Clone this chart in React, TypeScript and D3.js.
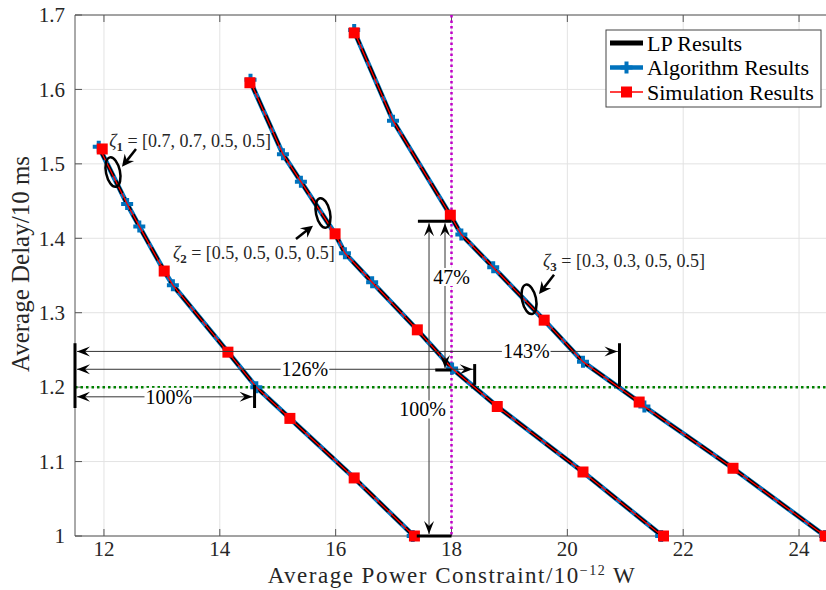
import * as React from 'react'
import { useEffect, useRef } from 'react'
import * as d3 from 'd3'

const W = 826
const H = 590
const FONT = '"Liberation Serif", "Times New Roman", serif'

const xTicks = [12, 14, 16, 18, 20, 22, 24]
const yTicks = [1, 1.1, 1.2, 1.3, 1.4, 1.5, 1.6, 1.7]

// zeta_1 = [0.7, 0.7, 0.5, 0.5]
const lp1 = [[11.91, 1.523], [12.4, 1.446], [12.61, 1.416], [13.04, 1.356], [13.19, 1.337], [14.14, 1.247], [14.63, 1.2], [15.21, 1.158], [16.32, 1.078], [17.35, 1.0]]
const alg1 = [[11.91, 1.523], [12.4, 1.446], [12.61, 1.416], [13.19, 1.337], [14.63, 1.2], [17.33, 1.0]]
const sim1 = [[11.97, 1.52], [13.04, 1.356], [14.14, 1.247], [15.21, 1.158], [16.32, 1.078], [17.36, 1.0]]

// zeta_2 = [0.5, 0.5, 0.5, 0.5]
const lp2 = [[14.52, 1.612], [15.09, 1.513], [15.4, 1.476], [15.99, 1.406], [16.16, 1.38], [16.63, 1.341], [17.41, 1.277], [18.01, 1.225], [18.79, 1.174], [20.27, 1.086], [21.64, 1.0]]
const alg2 = [[14.53, 1.613], [15.09, 1.513], [15.4, 1.476], [16.16, 1.38], [16.63, 1.341], [18.01, 1.225], [21.62, 1.0]]
const sim2 = [[14.52, 1.609], [15.99, 1.406], [17.41, 1.277], [18.79, 1.174], [20.27, 1.086], [21.66, 1.0]]

// zeta_3 = [0.3, 0.3, 0.5, 0.5]
const lp3 = [[16.32, 1.678], [16.99, 1.558], [17.98, 1.431], [18.17, 1.405], [18.72, 1.361], [19.6, 1.29], [20.27, 1.234], [21.24, 1.18], [21.33, 1.174], [22.86, 1.091], [24.45, 1.0]]
const alg3 = [[16.32, 1.68], [16.99, 1.558], [18.17, 1.405], [18.72, 1.361], [20.27, 1.234], [21.33, 1.174], [24.45, 1.0]]
const sim3 = [[16.32, 1.676], [17.98, 1.431], [19.6, 1.29], [21.24, 1.18], [22.86, 1.091], [24.45, 1.0]]

const curves = [
  { lp: lp1, alg: alg1, sim: sim1 },
  { lp: lp2, alg: alg2, sim: sim2 },
  { lp: lp3, alg: alg3, sim: sim3 },
]

// zeta labels: text anchor, ellipse center, arrow from -> to (data units)
const zetaLabels = [
  { sub: '1', vals: '[0.7, 0.7, 0.5, 0.5]', text: [12.09, 1.523], ell: [12.156, 1.489], from: [12.553, 1.52], to: [12.311, 1.496] },
  { sub: '2', vals: '[0.5, 0.5, 0.5, 0.5]', text: [13.19, 1.372], ell: [15.782, 1.434], from: [15.315, 1.399], to: [15.609, 1.417] },
  { sub: '3', vals: '[0.3, 0.3, 0.5, 0.5]', text: [19.58, 1.361], ell: [19.338, 1.318], from: [19.77, 1.351], to: [19.511, 1.325] },
]

const powerRef = 18
const delayRef = 1.2

// horizontal percentage arrows
const hArrows = [
  { label: '100%', y: 1.187, x2: 14.6, labelX: 13.12, barTop: 1.203, barBot: 1.172 },
  { label: '126%', y: 1.224, x2: 18.4, labelX: 15.47, barTop: 1.231, barBot: 1.203 },
  { label: '143%', y: 1.248, x2: 20.9, labelX: 19.29, barTop: 1.259, barBot: 1.201 },
]

// vertical percentage arrows
const vArrows = [
  { label: '100%', x: 17.612, y1: 1.0, y2: 1.423, labelX: 17.5, labelY: 1.17 },
  { label: '47%', x: 17.888, y1: 1.223, y2: 1.423, labelX: 18.0, labelY: 1.348 },
]
const vBars = [
  { x1: 17.42, x2: 18.0, y: 1.423 },
  { x1: 17.72, x2: 18.0, y: 1.223 },
  { x1: 17.4, x2: 18.0, y: 1.0 },
]

const BLUE = '#0072BD'
const RED = '#ff0000'

function arrowHead(tx: number, ty: number, ang: number, len: number, half: number, notch: number) {
  const dx = Math.cos(ang)
  const dy = Math.sin(ang)
  const px = -dy
  const py = dx
  return `M${tx},${ty}L${tx - len * dx + half * px},${ty - len * dy + half * py}L${tx - notch * dx},${ty - notch * dy}L${tx - len * dx - half * px},${ty - len * dy - half * py}Z`
}

function App() {
  const ref = useRef<SVGSVGElement>(null)

  useEffect(() => {
    const svg = d3.select(ref.current)
    svg.selectAll('*').remove()

    const x = d3.scaleLinear().domain([11.5, 24.5]).range([75, 828])
    const y = d3.scaleLinear().domain([1, 1.7]).range([536, 15])
    const [x0, x1] = x.range()
    const [y0, y1] = y.range()

    // grid
    const grid = svg.append('g')
    grid.selectAll('line.gx').data(xTicks).enter().append('line')
      .attr('x1', (d) => x(d)).attr('x2', (d) => x(d)).attr('y1', y1).attr('y2', y0)
      .attr('stroke', '#e3e3e3').attr('stroke-width', 1)
    grid.selectAll('line.gy').data(yTicks).enter().append('line')
      .attr('x1', x0).attr('x2', x1).attr('y1', (d) => y(d)).attr('y2', (d) => y(d))
      .attr('stroke', '#e3e3e3').attr('stroke-width', 1)

    // axes box + ticks
    const ax = svg.append('g').attr('stroke', '#555').attr('stroke-width', 1)
    ax.append('line').attr('x1', x0).attr('x2', x1).attr('y1', y0).attr('y2', y0)
    ax.append('line').attr('x1', x0).attr('x2', x1).attr('y1', y1).attr('y2', y1)
    ax.append('line').attr('x1', x0).attr('x2', x0).attr('y1', y0).attr('y2', y1)
    xTicks.forEach((t) => {
      ax.append('line').attr('x1', x(t)).attr('x2', x(t)).attr('y1', y0).attr('y2', y0 - 7)
      ax.append('line').attr('x1', x(t)).attr('x2', x(t)).attr('y1', y1).attr('y2', y1 + 7)
    })
    yTicks.forEach((t) => {
      ax.append('line').attr('x1', x0).attr('x2', x0 + 7).attr('y1', y(t)).attr('y2', y(t))
    })

    svg.append('g').selectAll('text').data(xTicks).enter().append('text')
      .attr('x', (d) => x(d)).attr('y', y0 + 20).attr('text-anchor', 'middle')
      .attr('font-family', FONT).attr('font-size', 21).attr('fill', '#262626')
      .text((d) => d)
    svg.append('g').selectAll('text').data(yTicks).enter().append('text')
      .attr('x', x0 - 10).attr('y', (d) => y(d)).attr('dy', '0.35em').attr('text-anchor', 'end')
      .attr('font-family', FONT).attr('font-size', 21).attr('fill', '#262626')
      .text((d) => (d === 1 ? '1' : d.toFixed(1)))

    // axis titles
    const xl = svg.append('text').attr('x', 452).attr('y', 583).attr('text-anchor', 'middle')
      .attr('font-family', FONT).attr('font-size', 23).attr('letter-spacing', 1.5).attr('fill', '#262626')
    xl.append('tspan').text('Average Power Constraint/10')
    xl.append('tspan').attr('font-size', 14).attr('dy', -8).text('\u221212')
    xl.append('tspan').attr('dy', 8).text(' W')
    svg.append('text').attr('transform', `translate(29,264) rotate(-90)`).attr('text-anchor', 'middle')
      .attr('font-family', FONT).attr('font-size', 25).attr('fill', '#262626')
      .text('Average Delay/10 ms')

    // reference lines
    svg.append('line').attr('x1', x0).attr('x2', x1).attr('y1', y(delayRef)).attr('y2', y(delayRef))
      .attr('stroke', '#008000').attr('stroke-width', 2.5).attr('stroke-dasharray', '2.5 3')
    svg.append('line').attr('x1', x(powerRef)).attr('x2', x(powerRef)).attr('y1', y1).attr('y2', y0)
      .attr('stroke', '#c000c8').attr('stroke-width', 2.5).attr('stroke-dasharray', '2.5 3')

    // curves
    const line = d3.line<number[]>().x((d) => x(d[0])).y((d) => y(d[1]))
    const cg = svg.append('g')
    curves.forEach((c) => {
      cg.append('path').attr('d', line(c.lp)).attr('fill', 'none').attr('stroke', BLUE).attr('stroke-width', 5)
      cg.append('path').attr('d', line(c.lp)).attr('fill', 'none').attr('stroke', '#000').attr('stroke-width', 3.6)
        .attr('stroke-dasharray', '14 5')
    })
    curves.forEach((c) => {
      cg.selectAll(null).data(c.alg).enter().append('path')
        .attr('d', (d) => `M${x(d[0]) - 6},${y(d[1])}h12M${x(d[0])},${y(d[1]) - 6}v12`)
        .attr('stroke', BLUE).attr('stroke-width', 4)
    })
    curves.forEach((c) => {
      cg.append('path').attr('d', line(c.lp)).attr('fill', 'none').attr('stroke', RED).attr('stroke-width', 1.3)
      cg.selectAll(null).data(c.sim).enter().append('rect')
        .attr('x', (d) => x(d[0]) - 5.5).attr('y', (d) => y(d[1]) - 5.5)
        .attr('width', 11).attr('height', 11).attr('fill', RED)
    })

    // zeta annotations
    const an = svg.append('g')
    zetaLabels.forEach((z) => {
      const cx = x(z.ell[0])
      const cy = y(z.ell[1])
      an.append('ellipse').attr('cx', cx).attr('cy', cy).attr('rx', 7).attr('ry', 15)
        .attr('transform', `rotate(-12,${cx},${cy})`)
        .attr('fill', 'none').attr('stroke', '#000').attr('stroke-width', 2.5)
      const fx = x(z.from[0]), fy = y(z.from[1]), tx = x(z.to[0]), ty = y(z.to[1])
      const ang = Math.atan2(ty - fy, tx - fx)
      an.append('line').attr('x1', fx).attr('y1', fy).attr('x2', tx - 6 * Math.cos(ang)).attr('y2', ty - 6 * Math.sin(ang))
        .attr('stroke', '#000').attr('stroke-width', 2.5)
      an.append('path').attr('d', arrowHead(tx, ty, ang, 12, 6, 8)).attr('fill', '#000')
      const t = an.append('text').attr('x', x(z.text[0])).attr('y', y(z.text[1]))
        .attr('font-family', FONT).attr('font-size', 18).attr('fill', '#262626')
      t.append('tspan').attr('font-style', 'italic').text('\u03b6')
      t.append('tspan').attr('font-size', 13).attr('font-weight', 'bold').attr('dy', 4).text(z.sub)
      t.append('tspan').attr('dy', -4).text(` = ${z.vals}`)
    })

    const label = (g: any, lx: number, ly: number, txt: string) => {
      const t = g.append('text').attr('x', lx).attr('y', ly).attr('dy', '0.35em').attr('text-anchor', 'middle')
        .attr('font-family', FONT).attr('font-size', 20).attr('fill', '#000').text(txt)
      const b = t.node().getBBox()
      g.insert('rect', () => t.node()).attr('x', b.x - 1).attr('y', b.y + 2).attr('width', b.width + 2).attr('height', b.height - 4)
        .attr('fill', '#fff')
    }

    // horizontal arrows
    const ha = svg.append('g')
    ha.append('line').attr('x1', x0).attr('x2', x0).attr('y1', y(1.259)).attr('y2', y(1.172))
      .attr('stroke', '#000').attr('stroke-width', 3)
    hArrows.forEach((a) => {
      const ya = y(a.y)
      const xs = x(11.5) + 2
      const xe = x(a.x2)
      ha.append('line').attr('x1', xs).attr('x2', xe).attr('y1', ya).attr('y2', ya).attr('stroke', '#333').attr('stroke-width', 1)
      ha.append('path').attr('d', arrowHead(xs, ya, Math.PI, 13, 5, 8)).attr('fill', '#000')
      ha.append('path').attr('d', arrowHead(xe - 2, ya, 0, 13, 5, 8)).attr('fill', '#000')
      ha.append('line').attr('x1', xe).attr('x2', xe).attr('y1', y(a.barTop)).attr('y2', y(a.barBot))
        .attr('stroke', '#000').attr('stroke-width', 3)
      label(ha, x(a.labelX), ya, a.label)
    })

    // vertical arrows
    const va = svg.append('g')
    vBars.forEach((b) => {
      va.append('line').attr('x1', x(b.x1)).attr('x2', x(b.x2)).attr('y1', y(b.y)).attr('y2', y(b.y))
        .attr('stroke', '#000').attr('stroke-width', 3)
    })
    vArrows.forEach((a) => {
      const xa = x(a.x)
      const ys = y(a.y1) - 2
      const ye = y(a.y2) + 2
      va.append('line').attr('x1', xa).attr('x2', xa).attr('y1', ys).attr('y2', ye).attr('stroke', '#333').attr('stroke-width', 1)
      va.append('path').attr('d', arrowHead(xa, ys, Math.PI / 2, 13, 5, 8)).attr('fill', '#000')
      va.append('path').attr('d', arrowHead(xa, ye, -Math.PI / 2, 13, 5, 8)).attr('fill', '#000')
      label(va, x(a.labelX), y(a.labelY), a.label)
    })

    // legend
    const lg = svg.append('g')
    lg.append('rect').attr('x', 606).attr('y', 30).attr('width', 215).attr('height', 77)
      .attr('fill', '#fff').attr('stroke', '#444').attr('stroke-width', 1)
    const items = ['LP Results', 'Algorithm Results', 'Simulation Results']
    items.forEach((name, i) => {
      const ly = 43 + i * 24.5
      if (i === 0) lg.append('line').attr('x1', 610).attr('x2', 643).attr('y1', ly).attr('y2', ly).attr('stroke', '#000').attr('stroke-width', 5)
      if (i === 1) {
        lg.append('line').attr('x1', 610).attr('x2', 643).attr('y1', ly).attr('y2', ly).attr('stroke', BLUE).attr('stroke-width', 4.5)
        lg.append('path').attr('d', `M${620.5},${ly}h12M${626.5},${ly - 6}v12`).attr('stroke', BLUE).attr('stroke-width', 4)
      }
      if (i === 2) {
        lg.append('line').attr('x1', 610).attr('x2', 643).attr('y1', ly).attr('y2', ly).attr('stroke', RED).attr('stroke-width', 1.3)
        lg.append('rect').attr('x', 621).attr('y', ly - 5.5).attr('width', 11).attr('height', 11).attr('fill', RED)
      }
      lg.append('text').attr('x', 647).attr('y', ly).attr('dy', '0.35em')
        .attr('font-family', FONT).attr('font-size', 22).attr('fill', '#000').text(name)
    })
  }, [])

  return <svg ref={ref} width={W} height={H} style={{ position: 'absolute', left: 0, top: 0, background: '#fff' }} />
}

export default App
